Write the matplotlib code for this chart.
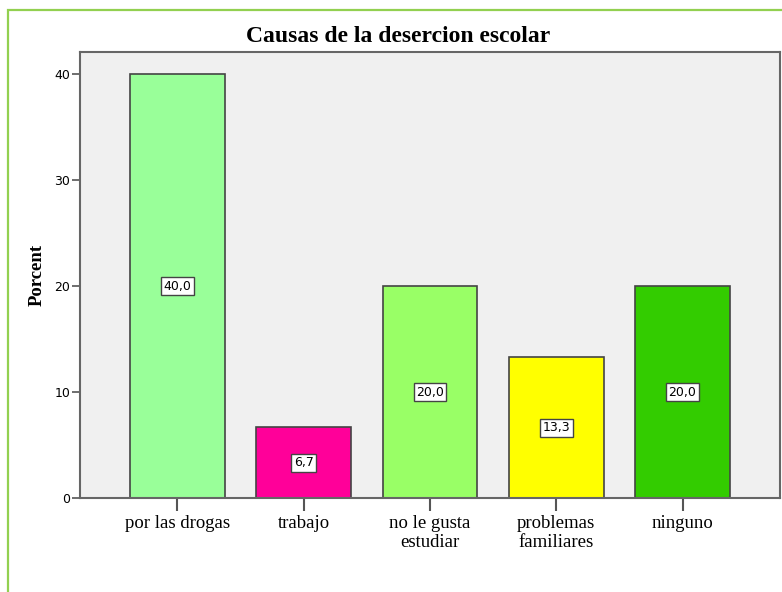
import matplotlib.pyplot as plt
from matplotlib.patches import Rectangle

categories = ['por las drogas', 'trabajo', 'no le gusta\nestudiar', 'problemas\nfamiliares', 'ninguno']
percent = [40.0, 6.7, 20.0, 13.3, 20.0]
bar_colors = ['#99ff99', '#ff0099', '#99ff66', '#ffff00', '#33cc00']
yticks = [0, 10, 20, 30, 40]

fig = plt.figure(figsize=(7.82, 5.92), dpi=100)
ax = fig.add_axes([80 / 782, 1 - 498 / 592, 700 / 782, 446 / 592])
ax.set_facecolor('#f0f0f0')

x = list(range(len(categories)))
ax.bar(x, percent, width=0.75, color=bar_colors, edgecolor='#444444', linewidth=1.2, zorder=2)

# value labels in the middle of each bar
for xi, v in zip(x, percent):
    ax.text(xi, v / 2, f'{v:.1f}'.replace('.', ','), ha='center', va='center',
            fontsize=9, family='DejaVu Sans', zorder=3,
            bbox=dict(boxstyle='square,pad=0.2', facecolor='white', edgecolor='#444444', linewidth=1))

ax.set_xlim(-0.772, 4.772)
ax.set_ylim(0, 42.1)
ax.set_xticks(x)
ax.set_xticklabels(categories, family='Liberation Serif', fontsize=13.5, linespacing=1.2)
ax.set_yticks(yticks)
ax.set_yticklabels([str(t) for t in yticks], family='DejaVu Sans', fontsize=9)
ax.tick_params(axis='x', length=9, width=1.5, color='#555555', pad=3)
ax.tick_params(axis='y', length=6, width=1.2, color='#555555', pad=1)
for s in ax.spines.values():
    s.set_color('#666666')
    s.set_linewidth(1.5)

ax.set_ylabel('Porcent', family='Liberation Serif', fontweight='bold', fontsize=13.5, labelpad=6)
fig.text(398 / 782, 1 - 37 / 592, 'Causas de la desercion escolar', ha='center', va='center',
         family='Liberation Serif', fontweight='bold', fontsize=17)

# green frame around the chart
fig.patches.append(Rectangle((8 / 782, -0.1), 1.0, 1 - 10 / 592 + 0.1, transform=fig.transFigure,
                             fill=False, edgecolor='#92d050', linewidth=1.6))

fig.savefig('out.png', dpi=100)
